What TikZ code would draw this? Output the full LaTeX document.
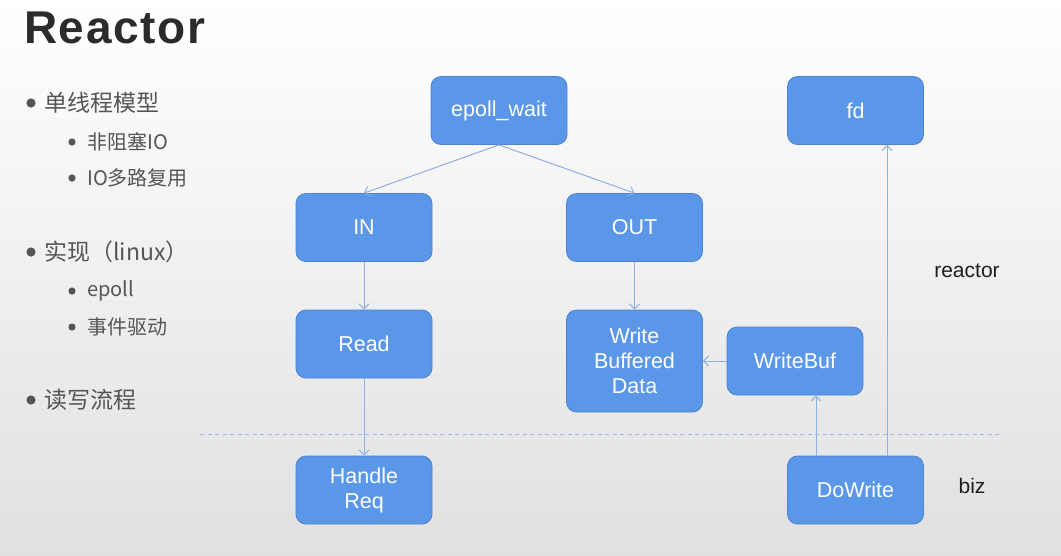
\documentclass[tikz,border=0pt]{standalone}
\usepackage{fontspec}
\setmainfont{Liberation Sans}
\newfontfamily\cjk{Noto Sans CJK SC}
\usetikzlibrary{arrows.meta}
\definecolor{boxfill}{HTML}{5B97E8}
\definecolor{boxdraw}{HTML}{4C82CE}
\definecolor{arr}{HTML}{8DB1E3}
\definecolor{listtxt}{HTML}{555555}
\definecolor{dashc}{HTML}{9DB9DF}
\definecolor{titlec}{HTML}{2B2B2B}
\definecolor{lblc}{HTML}{1E1E1E}
\begin{document}
\begin{tikzpicture}[x=1pt,y=-1pt,
  blk/.style={draw=boxdraw, fill=boxfill, rounded corners=10pt, minimum width=136pt,
    minimum height=68pt, inner sep=0pt, text=white, align=center, line width=0.8pt,
    font=\fontsize{21.5}{25}\selectfont},
  conn/.style={draw=arr, line width=1pt, -{Straight Barb[length=5pt,width=10pt]}},
  mainitem/.style={anchor=base west, inner sep=0pt, text=listtxt, font=\cjk\fontsize{23}{27}\selectfont},
  subitem/.style={anchor=base west, inner sep=0pt, text=listtxt, font=\cjk\fontsize{20}{24}\selectfont},
  bigdot/.style={fill=listtxt},
  lbl/.style={anchor=base, inner sep=0pt, text=lblc, font=\fontsize{21}{25}\selectfont}]
\useasboundingbox (0,0) rectangle (1061,555);
\shade[top color=white, bottom color=black!12] (0,0) rectangle (1061,555);

% title
\node[anchor=base west, inner sep=0pt, text=titlec,
  font=\fontsize{46}{50}\selectfont\bfseries\addfontfeatures{LetterSpace=3.5}] (title) at (24,43) {Reactor};

% bullet list
\fill[bigdot] (31,103) circle (4.6pt);
\node[mainitem] (l1) at (44,111.7) {单线程模型};
\fill[bigdot] (72,142) circle (3.6pt);
\node[subitem] (l2) at (87,149.6) {非阻塞IO};
\fill[bigdot] (72,178) circle (3.6pt);
\node[subitem] (l3) at (87,185.6) {IO多路复用};
\fill[bigdot] (31,252) circle (4.6pt);
\node[mainitem] (l4) at (44,260.7) {实现（linux）};
\fill[bigdot] (72,291) circle (3.6pt);
\node[subitem] (l5) at (87,296.5) {epoll};
\fill[bigdot] (72,327) circle (3.6pt);
\node[subitem] (l6) at (87,334.6) {事件驱动};
\fill[bigdot] (31,400) circle (4.6pt);
\node[mainitem] (l7) at (44,408.7) {读写流程};

% dashed separator
\coordinate (dl) at (200,434);
\coordinate (dr) at (1000,434);
\draw[dashc, line width=1pt, dash pattern=on 4pt off 3.5pt] (dl) -- (dr);

% boxes
\node[blk] (ew) at (499,110.5) {epoll\_wait};
\node[blk] (in) at (364,227.5) {IN};
\node[blk] (out) at (634.5,227.5) {OUT};
\node[blk] (rd) at (364,344) {Read};
\node[blk, minimum height=102pt] (wbd) at (634.5,361) {Write\\Buffered\\Data};
\node[blk] (hr) at (364,490) {Handle\\Req};
\node[blk] (fd) at (855.5,110.5) {fd};
\node[blk] (wb) at (795,361) {WriteBuf};
\node[blk] (dw) at (855.5,490) {DoWrite};

% connectors
\draw[conn] (ew.south) -- (in.north);
\draw[conn] (ew.south) -- (out.north);
\draw[conn] (in) -- (rd);
\draw[conn] (out) -- (wbd);
\draw[conn] (rd) -- (hr);
\draw[conn] (wb) -- (wbd);
\draw[conn] ([xshift=-39.5pt]dw.north) -- ([xshift=-39.5pt]dw.north |- wb.south);
\draw[conn] ([xshift=31.5pt]dw.north) -- ([xshift=31.5pt]dw.north |- fd.south);

% labels
\node[lbl] (lr) at (967,277) {reactor};
\node[lbl] (lb) at (972,493) {biz};
\end{tikzpicture}
\end{document}
